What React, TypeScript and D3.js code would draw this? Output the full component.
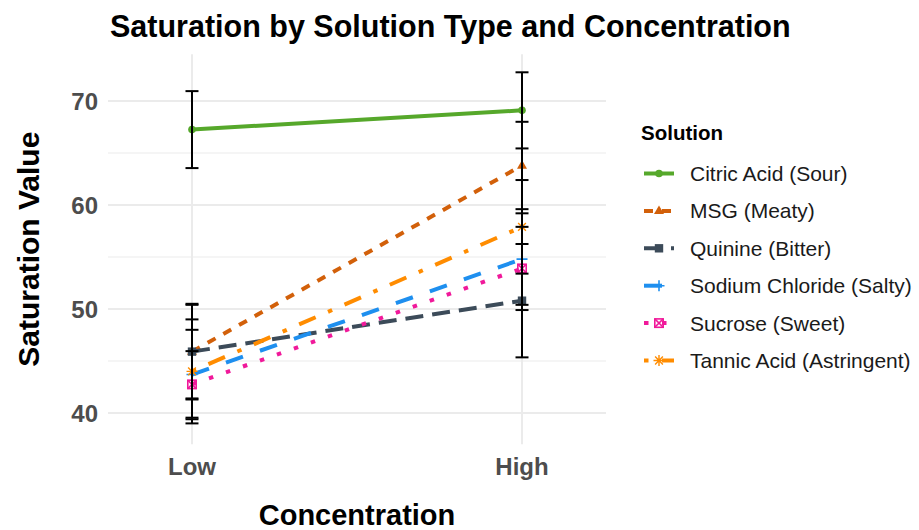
import React from "react";
import * as d3 from "d3";

const levels = ["Low", "High"];
const solutions = [
  "Citric Acid (Sour)",
  "MSG (Meaty)",
  "Quinine (Bitter)",
  "Sodium Chloride (Salty)",
  "Sucrose (Sweet)",
  "Tannic Acid (Astringent)",
];
const meanLow = [67.25, 45.9, 45.9, 43.7, 42.75, 44.0];
const meanHigh = [69.1, 63.8, 50.8, 54.8, 53.9, 57.9];
const errLow = [3.7, 4.6, 4.5, 4.3, 3.2, 5.0];
const errHigh = [3.66, 4.2, 5.45, 4.4, 4.0, 4.5];
const colors = ["#56A82B", "#D2600A", "#3C4B59", "#1E8FEF", "#F0199A", "#FF8C00"];
const dashUnits = [null, [2, 2], [4, 2], [4, 4], [1, 3], [1, 3, 4, 3]];
const shapes = ["circle", "triangle", "square", "plus", "squarecross", "asterisk"];
const yTicks = [40, 50, 60, 70];
const yMinor = [45, 55, 65];

const W = 919;
const H = 530;
const panel = { left: 108, right: 606, top: 54.2, bottom: 444.2 };
const U = 4.5;
const LW = 4;

function Marker({ shape, cx, cy, color }: { shape: string; cx: number; cy: number; color: string }) {
  const s = 4.2;
  switch (shape) {
    case "circle":
      return <circle cx={cx} cy={cy} r={3.8} fill={color} />;
    case "triangle":
      return (
        <path
          d={`M${cx},${cy - 5.5}L${cx + 5},${cy + 3.2}L${cx - 5},${cy + 3.2}Z`}
          fill={color}
        />
      );
    case "square":
      return <rect x={cx - s} y={cy - s} width={2 * s} height={2 * s} fill={color} />;
    case "plus":
      return (
        <path
          d={`M${cx - 5.5},${cy}H${cx + 5.5}M${cx},${cy - 5.5}V${cy + 5.5}`}
          stroke={color}
          strokeWidth={1.6}
        />
      );
    case "squarecross":
      return (
        <g stroke={color} strokeWidth={1.6} fill="none">
          <rect x={cx - s} y={cy - s} width={2 * s} height={2 * s} />
          <path d={`M${cx - s},${cy - s}L${cx + s},${cy + s}M${cx + s},${cy - s}L${cx - s},${cy + s}`} />
        </g>
      );
    case "asterisk": {
      const r = 5.5;
      const d = r * 0.707;
      return (
        <path
          d={`M${cx - r},${cy}H${cx + r}M${cx},${cy - r}V${cy + r}M${cx - d},${cy - d}L${cx + d},${cy + d}M${cx + d},${cy - d}L${cx - d},${cy + d}`}
          stroke={color}
          strokeWidth={1.4}
        />
      );
    }
  }
  return null;
}

export default function App() {
  const x = d3.scalePoint<string>().domain(levels).range([panel.left, panel.right]).padding(0.2545);
  const y = d3.scaleLinear().domain([37, 74.5]).range([panel.bottom, panel.top]);
  const line = d3
    .line<{ k: string; v: number }>()
    .x((d) => x(d.k) as number)
    .y((d) => y(d.v));

  const series = solutions.map((name, i) => ({
    name,
    color: colors[i],
    dash: dashUnits[i] ? (dashUnits[i] as number[]).map((u) => u * U).join(",") : undefined,
    shape: shapes[i],
    pts: [
      { k: levels[0], v: meanLow[i], e: errLow[i] },
      { k: levels[1], v: meanHigh[i], e: errHigh[i] },
    ],
  }));

  const font = "'Liberation Sans', Arial, sans-serif";
  const legendX = 644;
  const legendY0 = 173.5;
  const legendStep = 37.4;

  return (
    <svg
      width={W}
      height={H}
      style={{ position: "absolute", left: 0, top: 0, background: "#fff" }}
      fontFamily={font}
    >
      <rect width={W} height={H} fill="#fff" />
      {/* grid */}
      {yMinor.map((t) => (
        <line key={"mn" + t} x1={panel.left} x2={panel.right} y1={y(t)} y2={y(t)} stroke="#EBEBEB" strokeWidth={1} />
      ))}
      {yTicks.map((t) => (
        <line key={"mj" + t} x1={panel.left} x2={panel.right} y1={y(t)} y2={y(t)} stroke="#EBEBEB" strokeWidth={2} />
      ))}
      {levels.map((l) => (
        <line key={"vx" + l} x1={x(l)} x2={x(l)} y1={panel.top} y2={panel.bottom} stroke="#EBEBEB" strokeWidth={2} />
      ))}
      {/* lines */}
      {series.map((s) => (
        <path
          key={"l" + s.name}
          d={line(s.pts) || ""}
          fill="none"
          stroke={s.color}
          strokeWidth={LW}
          strokeDasharray={s.dash}
          strokeLinecap="butt"
        />
      ))}
      {/* points */}
      {series.map((s) =>
        s.pts.map((p) => (
          <Marker key={"p" + s.name + p.k} shape={s.shape} cx={x(p.k) as number} cy={y(p.v)} color={s.color} />
        ))
      )}
      {/* error bars */}
      {series.map((s) =>
        s.pts.map((p) => {
          const cx = x(p.k) as number;
          const hw = 6.5;
          return (
            <g key={"e" + s.name + p.k} stroke="#000" strokeWidth={2}>
              <line x1={cx} x2={cx} y1={y(p.v - p.e)} y2={y(p.v + p.e)} />
              <line x1={cx - hw} x2={cx + hw} y1={y(p.v + p.e)} y2={y(p.v + p.e)} />
              <line x1={cx - hw} x2={cx + hw} y1={y(p.v - p.e)} y2={y(p.v - p.e)} />
            </g>
          );
        })
      )}
      {/* y tick labels */}
      {yTicks.map((t) => (
        <text
          key={"yt" + t}
          x={panel.left - 10}
          y={y(t)}
          dy="0.36em"
          textAnchor="end"
          fontSize={24}
          fontWeight="bold"
          fill="#4D4D4D"
        >
          {t}
        </text>
      ))}
      {/* x tick labels */}
      {levels.map((l) => (
        <text key={"xt" + l} x={x(l)} y={475} textAnchor="middle" fontSize={24} fontWeight="bold" fill="#4D4D4D">
          {l}
        </text>
      ))}
      {/* axis titles */}
      <text x={357} y={525} textAnchor="middle" fontSize={29} fontWeight="bold" fill="#000">
        Concentration
      </text>
      <text
        transform={`translate(39,${(panel.top + panel.bottom) / 2}) rotate(-90)`}
        textAnchor="middle"
        fontSize={30}
        fontWeight="bold"
        fill="#000"
      >
        Saturation Value
      </text>
      {/* title */}
      <text x={110} y={37} fontSize={30.5} fontWeight="bold" fill="#000">
        Saturation by Solution Type and Concentration
      </text>
      {/* legend */}
      <text x={641} y={140} fontSize={20.5} fontWeight="bold" fill="#000">
        Solution
      </text>
      {series.map((s, i) => {
        const cy = legendY0 + i * legendStep;
        return (
          <g key={"lg" + s.name}>
            <line
              x1={legendX}
              x2={legendX + 30}
              y1={cy}
              y2={cy}
              stroke={s.color}
              strokeWidth={LW}
              strokeDasharray={s.dash}
            />
            <Marker shape={s.shape} cx={legendX + 15} cy={cy} color={s.color} />
            <text x={690} y={cy} dy="0.36em" fontSize={21} fill="#1A1A1A">
              {s.name}
            </text>
          </g>
        );
      })}
    </svg>
  );
}
